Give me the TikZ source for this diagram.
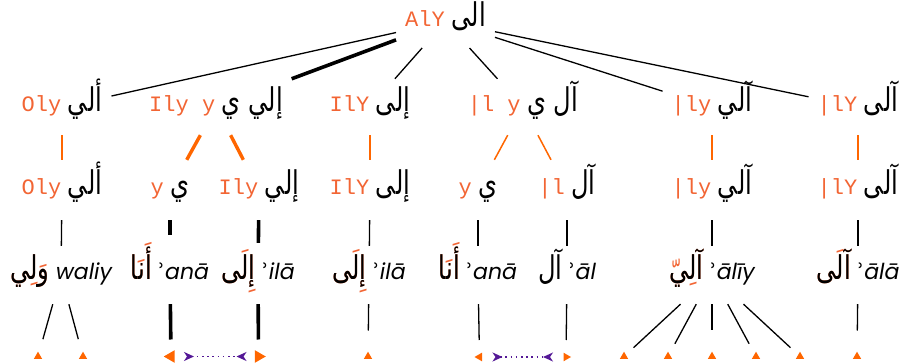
\documentclass[tikz,border=0pt]{standalone}
\usepackage{fontspec}
\usepackage{graphicx}
\usetikzlibrary{shapes.geometric,arrows.meta}
\TeXXeTstate=1
\newfontfamily\arabicfont[Script=Arabic,Scale=1.1]{DejaVu Sans}
\newfontfamily\bwfont{Liberation Mono}
\newfontfamily\trfont{Poppins}
\newfontfamily\dvsfont{DejaVu Sans}
\definecolor{bworange}{RGB}{242,101,52}
\definecolor{lineorange}{RGB}{255,102,0}
\definecolor{tipviolet}{RGB}{84,24,150}
% Buckwalter form, Arabic form, vowelled Arabic (marks in orange), transliteration
\newcommand\bw[1]{{\bwfont\color{bworange}#1}}
\newcommand\ar[1]{\scalebox{1}[1.35]{\arabicfont\beginR #1\endR}}
\newcommand\arv[2]{\makebox[0pt][l]{\color{bworange}\ar{#1}}\ar{#2}}
\newcommand\tr[1]{{\trfont\itshape #1}}
\newcommand\hmz{{\dvsfont\upshape ʾ}}
\tikzset{
  lbl/.style={font=\fontsize{22}{26}\selectfont, inner xsep=9pt, inner ysep=0pt,
    text height=16pt, text depth=6pt, anchor=center},
  top/.style={lbl, minimum height=52.6pt},
  lvlone/.style={lbl, minimum height=56pt},
  lvltwo/.style={lbl, minimum height=60pt},
  lvlthree/.style={lbl, minimum height=58pt},
  edge/.style={line width=1.3pt},
  heavy/.style={line width=3.6pt},
  oedge/.style={draw=lineorange, line width=1.5pt},
  oheavy/.style={draw=lineorange, line width=3.4pt},
  tri/.style={regular polygon, regular polygon sides=3, inner sep=0pt, fill=lineorange},
  tup/.style={tri, minimum size=9.6pt},
  tleftbig/.style={tri, minimum size=14.5pt, shape border rotate=90},
  trightbig/.style={tri, minimum size=14.5pt, shape border rotate=-90},
  tleft/.style={tri, minimum size=10pt, shape border rotate=90},
  tright/.style={tri, minimum size=10pt, shape border rotate=-90},
  link/.style={draw=tipviolet, line width=1.6pt, dash pattern=on 1.6pt off 3.6pt,
    {Stealth[reversed,length=10pt,width=9pt,inset=3pt]}-{Stealth[reversed,length=10pt,width=9pt,inset=3pt]}}
}
\begin{document}
\begin{tikzpicture}[x=1pt,y=-1pt]
\useasboundingbox (0,0) rectangle (900,363);

% root
\node[top] (R) at (445.5,21.5) {\bw{AlY} \ar{الى}};

% first level: segmentations
\node[lvlone] (a1) at (62,107)  {\bw{Oly} \ar{ألي}};
\node[lvlone] (b1) at (216,107) {\bw{Ily y} \ar{إلي ي}};
\node[lvlone] (c1) at (370,107) {\bw{IlY} \ar{إلى}};
\node[lvlone] (d1) at (523,107) {\bw{|l y} \ar{آل ي}};
\node[lvlone] (e1) at (712,107) {\bw{|ly} \ar{آلي}};
\node[lvlone] (f1) at (858,107) {\bw{|lY} \ar{آلى}};

% second level: words
\node[lvltwo] (a2) at (62,190)  {\bw{Oly} \ar{ألي}};
\node[lvltwo] (b2) at (170,190) {\bw{y} \ar{ي}};
\node[lvltwo] (c2) at (259,190) {\bw{Ily} \ar{إلي}};
\node[lvltwo] (d2) at (370,190) {\bw{IlY} \ar{إلى}};
\node[lvltwo] (e2) at (478,190) {\bw{y} \ar{ي}};
\node[lvltwo] (f2) at (567,190) {\bw{|l} \ar{آل}};
\node[lvltwo] (g2) at (712,190) {\bw{|ly} \ar{آلي}};
\node[lvltwo] (h2) at (858,190) {\bw{|lY} \ar{آلى}};

% third level: vowelled readings
\node[lvlthree] (a3) at (61,275)  {\arv{وَلِي}{ولي} \tr{waliy}};
\node[lvlthree] (b3) at (170,275) {\arv{أَنَا}{أنا} \tr{\hmz anā}};
\node[lvlthree] (c3) at (258,275) {\arv{إِلَى}{إلى} \tr{\hmz ilā}};
\node[lvlthree] (d3) at (369,275) {\arv{إِلَى}{إلى} \tr{\hmz ilā}};
\node[lvlthree] (e3) at (478,275) {\arv{أَنَا}{أنا} \tr{\hmz anā}};
\node[lvlthree] (f3) at (567,275) {\ar{آل} \tr{\hmz āl}};
\node[lvlthree] (g3) at (712,275) {\arv{آلِيّ}{آلي} \tr{\hmz ālīy}};
\node[lvlthree] (h3) at (858,275) {\arv{آلَى}{آلى} \tr{\hmz ālā}};

% terminal markers
\node[tup] (t1) at (38,356.5) {};
\node[tup] (t2) at (83,356.5) {};
\node[tleftbig] (t3) at (171,356.5) {};
\node[trightbig] (t4) at (258.5,356.5) {};
\node[tup] (t5) at (368,356.5) {};
\node[tleft] (t6) at (479.5,357) {};
\node[tright] (t7) at (566,357) {};
\node[tup] (t8) at (624,356.5) {};
\node[tup] (t9) at (668,356.5) {};
\node[tup] (t10) at (712,356.5) {};
\node[tup] (t11) at (756,356.5) {};
\node[tup] (t12) at (800,356.5) {};
\node[tup] (t13) at (857,356.5) {};

% root to segmentations
\draw[edge] (R) -- (a1);
\draw[heavy] (R) -- (b1);
\draw[edge] (R) -- (c1);
\draw[edge] (R) -- (d1);
\draw[edge] (R) -- (e1);
\draw[edge] (R) -- (f1);

% segmentations to words
\draw[oedge] (a1) -- (a2);
\draw[oheavy] (b1) -- (b2);
\draw[oheavy] (b1) -- (c2);
\draw[oedge] (c1) -- (d2);
\draw[oedge] (d1) -- (e2);
\draw[oedge] (d1) -- (f2);
\draw[oedge] (e1) -- (g2);
\draw[oedge] (f1) -- (h2);

% words to readings
\draw[edge] (a2) -- (a3);
\draw[heavy, shorten >=11pt] (b2) -- (b3);
\draw[heavy, shorten >=3pt] (c2) -- (c3);
\draw[edge] (d2) -- (d3);
\draw[edge] (e2) -- (e3);
\draw[edge] (f2) -- (f3);
\draw[edge] (g2) -- (g3);
\draw[edge] (h2) -- (h3);

% readings to terminals
\draw[edge, shorten >=18pt] (a3) -- (t1.center);
\draw[edge, shorten >=18pt] (a3) -- (t2.center);
\draw[heavy, shorten >=17pt] (b3) -- (t3.center);
\draw[heavy, shorten >=17pt] (c3) -- (t4.center);
\draw[edge, shorten >=26pt] (d3) -- (t5.center);
\draw[edge, shorten >=17pt] (e3) -- (t6.center);
\draw[edge, shorten >=17pt] (f3) -- (t7.center);
\draw[edge, shorten >=13pt] (g3) -- (t8.center);
\draw[edge, shorten >=14.5pt] (g3) -- (t9.center);
\draw[edge, shorten >=26pt] (g3) -- (t10.center);
\draw[edge, shorten >=14.5pt] (g3) -- (t11.center);
\draw[edge, shorten >=13pt] (g3) -- (t12.center);
\draw[edge, shorten >=26pt] (h3) -- (t13.center);

% links between paired terminals
\draw[link, shorten <=13pt, shorten >=12pt] (t3.center) -- (t4.center);
\draw[link, shorten <=13pt, shorten >=13pt] (t6.center) -- (t7.center);
\end{tikzpicture}
\end{document}
